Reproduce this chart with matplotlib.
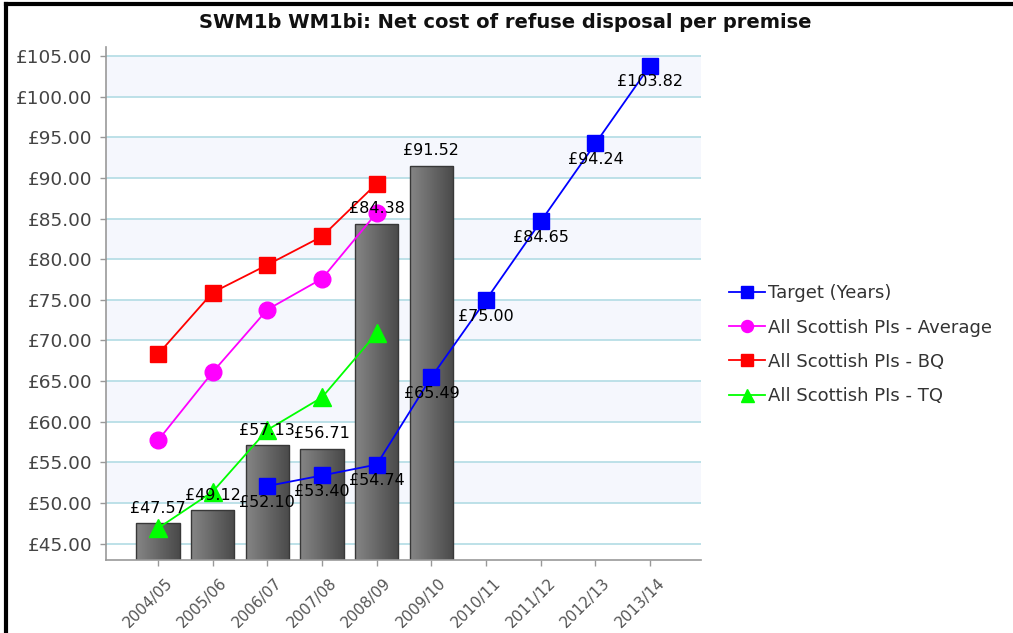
import matplotlib
matplotlib.use("Agg")
import matplotlib.pyplot as plt
import numpy as np
from matplotlib.lines import Line2D
from matplotlib.patches import Rectangle
from matplotlib.transforms import ScaledTranslation, blended_transform_factory

categories = ["2004/05", "2005/06", "2006/07", "2007/08", "2008/09",
              "2009/10", "2010/11", "2011/12", "2012/13", "2013/14"]
bar_values = [47.57, 49.12, 57.13, 56.71, 84.38, 91.52]
target_values = [None, None, 52.10, 53.40, 54.74, 65.49, 75.00, 84.65, 94.24, 103.82]
avg_values = [57.7, 66.1, 73.8, 77.6, 85.7]
bq_values = [68.3, 75.9, 79.3, 82.8, 89.3]
tq_values = [46.9, 51.4, 59.0, 63.0, 70.9]
yticks = [45, 50, 55, 60, 65, 70, 75, 80, 85, 90, 95, 100, 105]

W, H = 1013, 633
fig = plt.figure(figsize=(W / 100, H / 100), dpi=100)
fig.patch.set_facecolor("white")
ax = fig.add_axes([106 / W, 1 - 560 / H, (701 - 106) / W, (560 - 47) / H])
ax.set_facecolor("white")

# alternating bands
for lo in range(50, 105, 10):
    ax.axhspan(lo, lo + 5, color="#F5F7FD", zorder=0, lw=0)
for y in yticks:
    ax.axhline(y, color="#B2DCE4", lw=1.2, zorder=0.5)

# bars with gradient
bw = 0.79
grad = np.linspace(0, 1, 64).reshape(1, -1)
cmap = matplotlib.colors.LinearSegmentedColormap.from_list("g", ["#858585", "#4a4a4a"])
x = np.arange(len(categories))
bottom = 43.0
for i, v in enumerate(bar_values):
    rect = Rectangle((x[i] - bw / 2, bottom), bw, v - bottom, facecolor="none",
                     edgecolor="#383838", lw=1.0, zorder=2)
    ax.add_patch(rect)
    im = ax.imshow(grad, extent=(x[i] - bw / 2, x[i] + bw / 2, bottom, v),
                   aspect="auto", cmap=cmap, zorder=1.5, origin="lower")
    im.set_clip_path(rect)
    ax.text(x[i], v + 0.9, f"£{v:.2f}", ha="center", va="bottom", fontsize=11.5,
            color="black", zorder=6)

ax.set_aspect("auto")
ax.set_xlim(-0.95, 9.93)
ax.set_ylim(43.0, 106.1)

# lines
tx = [i for i, v in enumerate(target_values) if v is not None]
tv = [v for v in target_values if v is not None]
ax.plot(tx, tv, color="#0000FF", lw=1.3, marker="s", ms=12, zorder=4,
        label="Target (Years)")
ax.plot(x[:5], avg_values, color="#FF00FF", lw=1.3, marker="o", ms=12, zorder=4,
        label="All Scottish PIs - Average")
ax.plot(x[:5], bq_values, color="#FF0000", lw=1.3, marker="s", ms=12, zorder=4,
        label="All Scottish PIs - BQ")
ax.plot(x[:5], tq_values, color="#00FF00", lw=1.3, marker="^", ms=13, zorder=4,
        label="All Scottish PIs - TQ")
for xi, v in zip(tx, tv):
    ax.text(xi, v - 1.1, f"£{v:.2f}", ha="center", va="top", fontsize=11.5,
            color="black", zorder=6)

# axes styling
ax.set_yticks(yticks)
ax.set_yticklabels([f"£{v:.2f}" for v in yticks], fontsize=13.3, color="#444444")
ax.set_xticks(x)
ax.set_xticklabels([])
xlab_tr = blended_transform_factory(ax.transData, ax.transAxes) + \
    ScaledTranslation(7 / 100, -15 / 100, fig.dpi_scale_trans)
for i, c in enumerate(categories):
    ax.text(x[i], 0, c, transform=xlab_tr, rotation=45, ha="right", va="top",
            rotation_mode="anchor", fontsize=11, color="#555555", clip_on=False)
for s in ["top", "right"]:
    ax.spines[s].set_visible(False)
for s in ["left", "bottom"]:
    ax.spines[s].set_color("#999999")
    ax.spines[s].set_linewidth(1.2)
ax.tick_params(axis="both", colors="#999999", length=4, width=1)
ax.tick_params(axis="y", labelcolor="#444444", pad=6)

fig.text(505 / W, 1 - 22 / H, "SWM1b WM1bi: Net cost of refuse disposal per premise",
         ha="center", va="center", fontsize=14, fontweight="bold", color="#111111")

leg = fig.legend(loc="upper left", bbox_to_anchor=(713 / W, 1 - 268 / H), frameon=False,
                 fontsize=13, handlelength=2.0, labelspacing=0.9, handletextpad=0.15,
                 markerscale=0.72)
for t in leg.get_texts():
    t.set_color("#333333")

# figure border
fig.add_artist(Line2D([6 / W, 6 / W], [0, 1 - 4 / H], color="black", lw=3,
                      transform=fig.transFigure))
fig.add_artist(Line2D([6 / W, 1], [1 - 4 / H, 1 - 4 / H], color="black", lw=3,
                      transform=fig.transFigure))

fig.savefig("out.png", dpi=100)
